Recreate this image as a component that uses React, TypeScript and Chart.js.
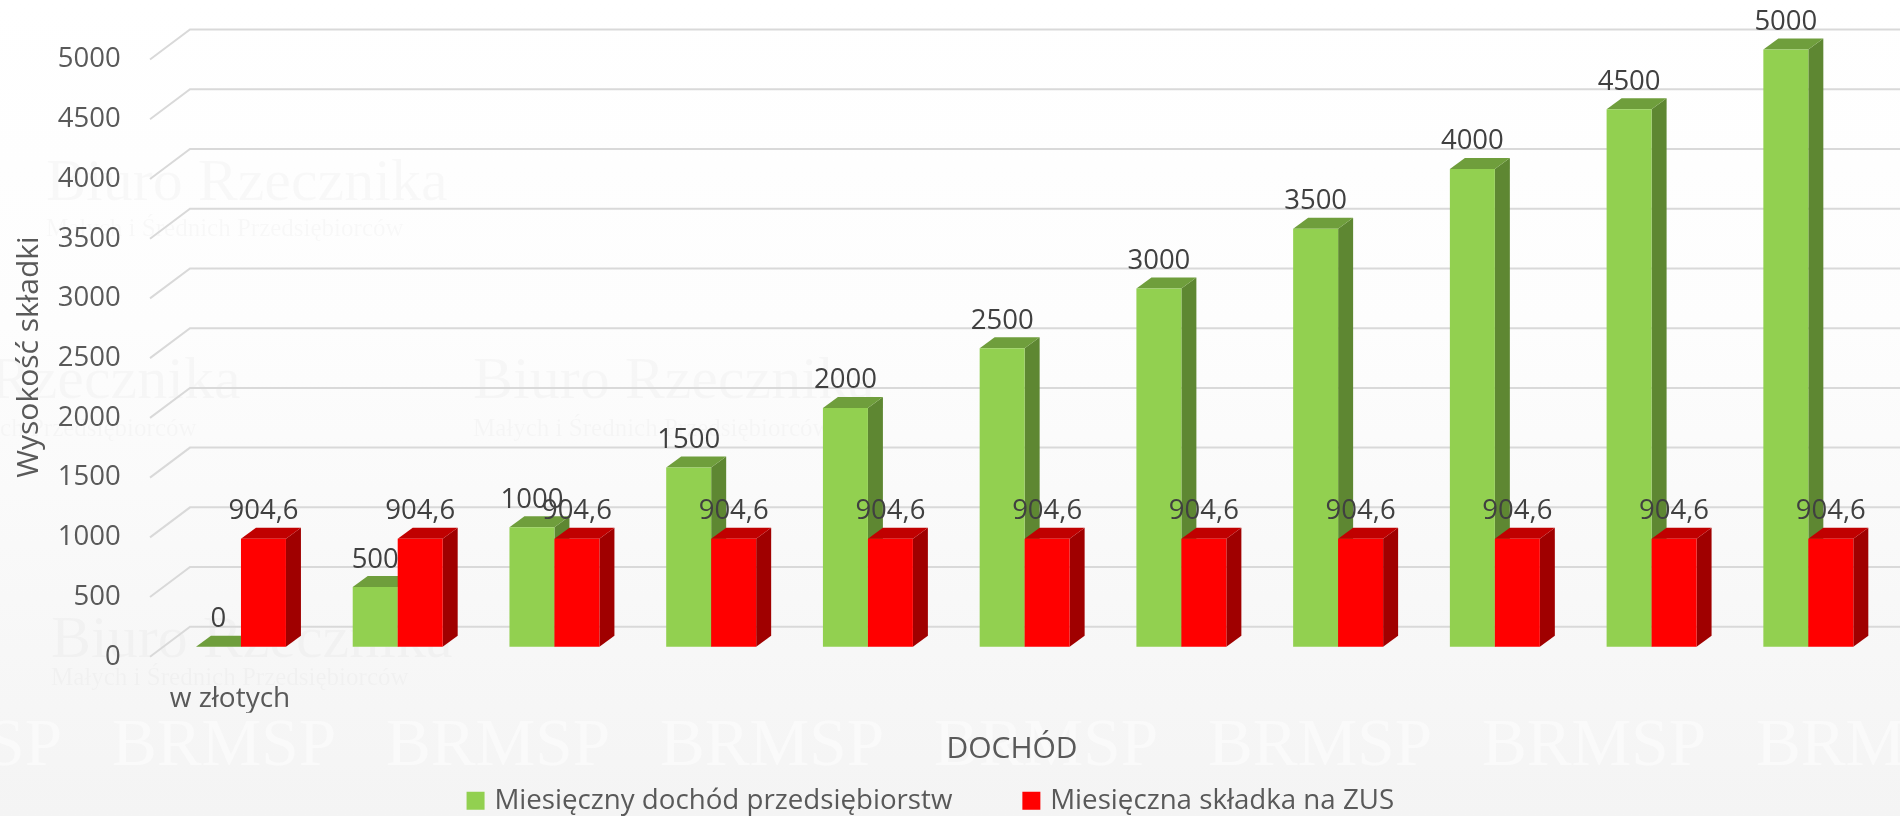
import React, { useEffect, useRef } from "react";
import { Chart, registerables } from "chart.js";

Chart.register(...registerables);

const categories = ["w złotych", "", "", "", "", "", "", "", "", "", ""];
const incomeValues = [0, 500, 1000, 1500, 2000, 2500, 3000, 3500, 4000, 4500, 5000];
const zusValues = [904.6, 904.6, 904.6, 904.6, 904.6, 904.6, 904.6, 904.6, 904.6, 904.6, 904.6];
const seriesNames = ["Miesięczny dochód przedsiębiorstw", "Miesięczna składka na ZUS"];
const yAxisTitle = "Wysokość składki";
const xAxisTitle = "DOCHÓD";
const watermarkTitle = "Biuro Rzecznika";
const watermarkSubtitle = "Małych i Średnich Przedsiębiorców";
const watermarkRow = "BRMSP";

const FONT = '"Open Sans", sans-serif';
const SERIF = '"Liberation Serif", serif';
const DEPTH_X = 15;
const DEPTH_Y = 11;
const faceColors = [
  { top: "#6f9e3c", side: "#5e8732" },
  { top: "#c00000", side: "#a00000" },
];

const watermarkPlugin = {
  id: "watermark",
  beforeDraw(chart: any) {
    const { ctx } = chart;
    ctx.save();
    ctx.textAlign = "left";
    ctx.textBaseline = "alphabetic";
    [
      [51, 657, 677],
      [46, 200, 228],
      [-161, 398, 428],
      [473, 398, 428],
    ].forEach(([x, y1, y2]) => {
      ctx.fillStyle = "rgba(0,0,0,0.022)";
      ctx.font = `60px ${SERIF}`;
      ctx.fillText(watermarkTitle, x, y1, 403);
      ctx.font = `25px ${SERIF}`;
      ctx.fillText(watermarkSubtitle, x, y2 + 8, 401);
    });
    ctx.fillStyle = "#fafafa";
    ctx.font = `68px ${SERIF}`;
    for (let x = -162; x < chart.width; x += 274) {
      ctx.fillText(watermarkRow, x, 765, 224);
    }
    ctx.restore();
  },
};

const wallPlugin = {
  id: "wall",
  beforeDatasetsDraw(chart: any) {
    const { ctx, scales } = chart;
    const y = scales.y;
    ctx.save();
    ctx.strokeStyle = "#d9d9d9";
    ctx.lineWidth = 2;
    y.ticks.forEach((t: any) => {
      const p = y.getPixelForValue(t.value);
      ctx.beginPath();
      ctx.moveTo(150, p + 10);
      ctx.lineTo(190, p - 20);
      ctx.lineTo(chart.width, p - 20);
      ctx.stroke();
    });
    ctx.restore();

    chart.data.datasets.forEach((_: any, i: number) => {
      const meta = chart.getDatasetMeta(i);
      meta.data.forEach((bar: any) => {
        const { x, y: top, base, width } = bar.getProps(["x", "y", "base", "width"], true);
        const l = x - width / 2;
        const r = x + width / 2;
        ctx.fillStyle = faceColors[i].side;
        ctx.beginPath();
        ctx.moveTo(r, base);
        ctx.lineTo(r + DEPTH_X, base - DEPTH_Y);
        ctx.lineTo(r + DEPTH_X, top - DEPTH_Y);
        ctx.lineTo(r, top);
        ctx.closePath();
        ctx.fill();
        ctx.fillStyle = faceColors[i].top;
        ctx.beginPath();
        ctx.moveTo(l, top);
        ctx.lineTo(l + DEPTH_X, top - DEPTH_Y);
        ctx.lineTo(r + DEPTH_X, top - DEPTH_Y);
        ctx.lineTo(r, top);
        ctx.closePath();
        ctx.fill();
      });
      meta.controller.draw();
    });

    ctx.save();
    ctx.fillStyle = "#404040";
    ctx.font = `27.5px ${FONT}`;
    ctx.textAlign = "center";
    ctx.textBaseline = "alphabetic";
    chart.data.datasets.forEach((ds: any, i: number) => {
      chart.getDatasetMeta(i).data.forEach((bar: any, j: number) => {
        ctx.fillText(String(ds.data[j]).replace(".", ","), bar.x, bar.y - 19.5);
      });
    });
    ctx.restore();
    return false;
  },
};

const titlesPlugin = {
  id: "titles",
  afterDraw(chart: any) {
    const { ctx } = chart;
    ctx.save();
    ctx.fillStyle = "#595959";
    ctx.textAlign = "center";
    ctx.textBaseline = "middle";
    ctx.font = `30px ${FONT}`;
    ctx.fillText(xAxisTitle, 1012, 749);
    ctx.translate(29, 357);
    ctx.rotate(-Math.PI / 2);
    ctx.fillText(yAxisTitle, 0, 0);
    ctx.restore();
  },
};

const legendShiftPlugin = {
  id: "legendShift",
  afterLayout(chart: any) {
    const lg = chart.legend;
    lg.left -= 11;
    lg.right -= 11;
  },
};

export default function App() {
  const ref = useRef<HTMLCanvasElement>(null);
  useEffect(() => {
    document.body.style.margin = "0";
    const chart = new Chart(ref.current!, {
      type: "bar",
      data: {
        labels: categories,
        datasets: [
          { label: seriesNames[0], data: incomeValues, backgroundColor: "#92d050", borderWidth: 0, categoryPercentage: 0.574, barPercentage: 1 },
          { label: seriesNames[1], data: zusValues, backgroundColor: "#ff0000", borderWidth: 0, categoryPercentage: 0.574, barPercentage: 1 },
        ],
      },
      plugins: [watermarkPlugin, legendShiftPlugin, wallPlugin, titlesPlugin],
      options: {
        responsive: false,
        animation: false,
        layout: { autoPadding: false, padding: { top: 49.5, right: 13.3, left: 0, bottom: -8.5 } },
        plugins: {
          tooltip: { enabled: false },
          legend: {
            position: "bottom",
            labels: {
              usePointStyle: true,
              pointStyle: "rect",
              boxWidth: 10,
              boxHeight: 18,
              padding: 74,
              color: "#595959",
              font: { family: FONT, size: 27.7 },
            },
          },
        },
        scales: {
          x: {
            grid: { display: false, drawTicks: false },
            border: { display: false },
            afterFit(s: any) {
              s.height = 66;
            },
            ticks: {
              color: "#595959",
              font: { family: FONT, size: 28 },
              padding: 35.4,
              labelOffset: -11,
              maxRotation: 0,
              autoSkip: false,
            },
          },
          y: {
            min: 0,
            max: 5000,
            afterFit(s: any) {
              s.width = 162.6;
              s.paddingTop = 0;
              s.paddingBottom = 0;
            },
            grid: { display: false, drawTicks: false },
            border: { display: false },
            ticks: {
              stepSize: 500,
              color: "#595959",
              font: { family: FONT, size: 27.5 },
              padding: 42,
              labelOffset: 10,
              callback: (v: any) => String(v),
            },
          },
        },
      },
    } as any);
    return () => chart.destroy();
  }, []);
  return (
    <div style={{ position: "relative", width: 1900, height: 816, background: "linear-gradient(#ffffff 0%, #fdfdfd 40%, #f4f4f4 100%)" }}>
      <canvas ref={ref} width={1900} height={816} style={{ display: "block" }} />
    </div>
  );
}
